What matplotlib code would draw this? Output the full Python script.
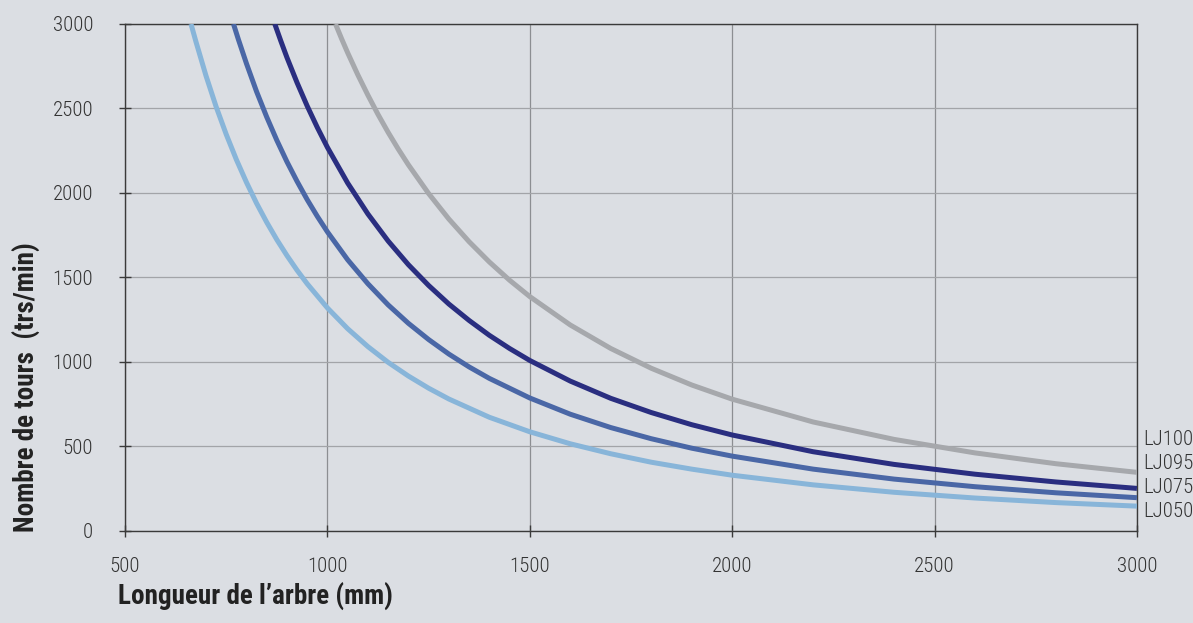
import matplotlib.pyplot as plt

# Vitesse critique (trs/min) selon la longueur de l'arbre (mm)
x_lj050 = [663, 675, 700, 725, 750, 775, 800, 825, 850, 875, 900, 925, 950, 1000, 1050,
           1100, 1150, 1200, 1250, 1300, 1400, 1500, 1600, 1700, 1800, 1900, 2000,
           2200, 2400, 2600, 2800, 3000]
y_lj050 = [3000, 2897, 2694, 2511, 2347, 2198, 2063, 1939, 1827, 1724, 1630, 1543, 1463,
           1320, 1197, 1091, 998, 917, 845, 781, 673, 587, 516, 457, 407, 366, 330,
           273, 229, 195, 168, 147]

x_lj075 = [768, 780, 800, 825, 850, 875, 900, 925, 950, 975, 1000, 1050, 1100, 1150,
           1200, 1250, 1300, 1350, 1400, 1500, 1600, 1700, 1800, 1900, 2000, 2200,
           2400, 2600, 2800, 3000]
y_lj075 = [3000, 2909, 2766, 2600, 2450, 2312, 2185, 2069, 1961, 1862, 1770, 1605, 1463,
           1338, 1229, 1133, 1047, 971, 903, 787, 691, 612, 546, 490, 443, 366,
           307, 262, 226, 197]

x_lj095 = [870, 885, 900, 925, 950, 975, 1000, 1050, 1100, 1150, 1200, 1250, 1300, 1350,
           1400, 1450, 1500, 1600, 1700, 1800, 1900, 2000, 2200, 2400, 2600, 2800, 3000]
y_lj095 = [3000, 2899, 2802, 2653, 2515, 2388, 2270, 2059, 1876, 1716, 1576, 1453, 1343,
           1246, 1158, 1080, 1009, 887, 785, 701, 629, 568, 469, 394, 336, 290, 252]

x_lj100 = [1020, 1035, 1050, 1075, 1100, 1125, 1150, 1175, 1200, 1250, 1300, 1350, 1400,
           1450, 1500, 1600, 1700, 1800, 1900, 2000, 2200, 2400, 2600, 2800, 3000]
y_lj100 = [3000, 2913, 2830, 2700, 2579, 2465, 2359, 2260, 2167, 1997, 1846, 1712, 1592,
           1484, 1387, 1219, 1080, 963, 864, 780, 645, 542, 462, 398, 347]

noms = ["LJ100", "LJ095", "LJ075", "LJ050"]
y_etiquettes = [544, 402, 260, 118]

fond = "#dbdee3"
plt.rcParams['font.family'] = ['Roboto Condensed', 'Archivo Narrow', 'Liberation Sans Narrow',
                               'DejaVu Sans']

fig = plt.figure(figsize=(11.93, 6.23), dpi=100, facecolor=fond)
ax = fig.add_axes([0.1048, 0.1477, 0.8482, 0.8138])
ax.set_facecolor(fond)

ax.plot(x_lj050, y_lj050, color="#88b5d9", lw=3.6, solid_capstyle='butt', zorder=3)
ax.plot(x_lj075, y_lj075, color="#4a67a6", lw=3.6, solid_capstyle='butt', zorder=3)
ax.plot(x_lj095, y_lj095, color="#2a2e80", lw=3.6, solid_capstyle='butt', zorder=3)
ax.plot(x_lj100, y_lj100, color="#a6a8ac", lw=3.6, solid_capstyle='butt', zorder=3)

ax.set_xlim(500, 3000)
ax.set_ylim(0, 3000)
ax.set_xticks(range(500, 3001, 500))
ax.set_yticks(range(0, 3001, 500))

ax.grid(axis='x', color="#8c8e92", lw=0.9)
ax.grid(axis='y', color="#a2a4a8", lw=0.9)
ax.set_axisbelow(True)

for cote in ['left', 'bottom', 'right', 'top']:
    ax.spines[cote].set_color("#3a3a3a")
    ax.spines[cote].set_linewidth(1.0)

ax.tick_params(direction='inout', length=8, width=1, color="#3a3a3a",
               labelsize=15, labelcolor="#333333")
ax.tick_params(axis='y', pad=19)
ax.tick_params(axis='x', pad=15)
for lbl in ax.get_xticklabels() + ax.get_yticklabels():
    lbl.set_fontweight('light')

for nom, yy in zip(noms, y_etiquettes):
    ax.text(3015, yy, nom, fontsize=15, fontweight='light', color="#333333",
            va='center', ha='left')

fig.text(0.011, 0.379, "Nombre de tours  (trs/min)", rotation=90, fontsize=19.5,
         fontweight='bold', color="#222222", va='center', ha='left')
fig.text(0.099, 0.042, "Longueur de l\u2019arbre (mm)", fontsize=19.5,
         fontweight='bold', color="#222222", va='center', ha='left')

fig.savefig("out.png", dpi=100, facecolor=fond)
